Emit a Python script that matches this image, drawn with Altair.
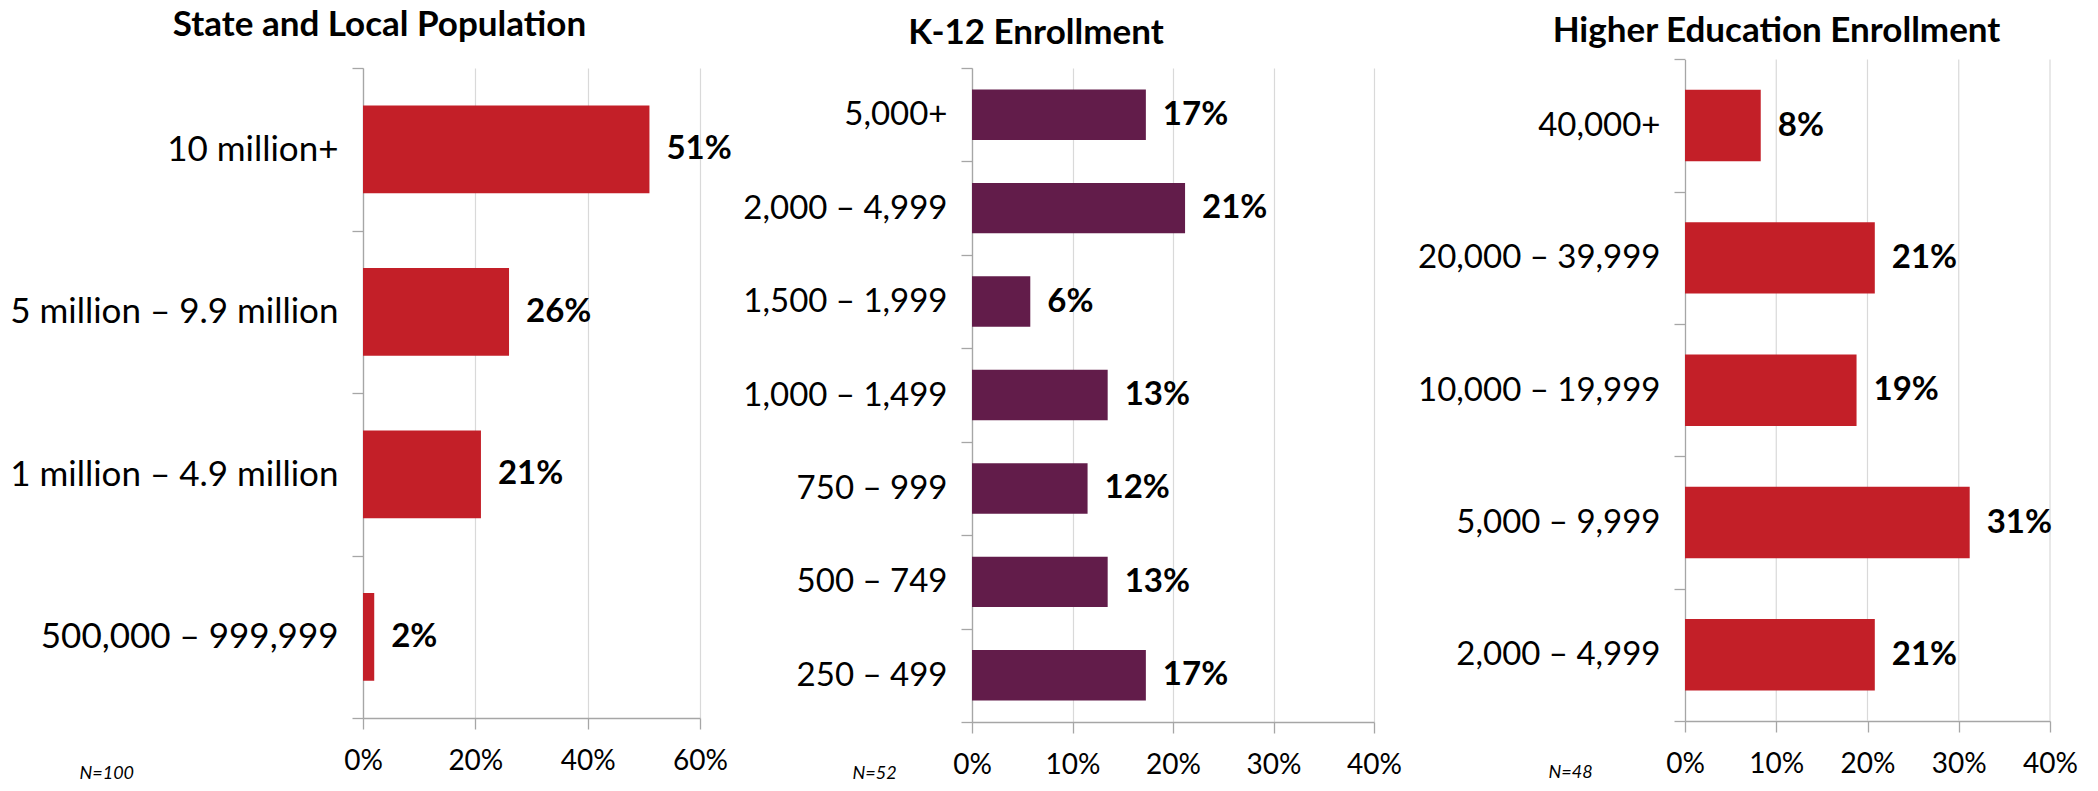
import altair as alt
import pandas as pd

# ---------------- data ----------------
pop_cats = ["10 million+", "5 million – 9.9 million", "1 million – 4.9 million", "500,000 – 999,999"]
pop_vals = [51, 26, 21, 2]
pop_labels = ["51%", "26%", "21%", "2%"]

k12_cats = ["5,000+", "2,000 – 4,999", "1,500 – 1,999", "1,000 – 1,499", "750 – 999", "500 – 749", "250 – 499"]
k12_vals = [17.3, 21.2, 5.8, 13.5, 11.5, 13.5, 17.3]
k12_labels = ["17%", "21%", "6%", "13%", "12%", "13%", "17%"]

he_cats = ["40,000+", "20,000 – 39,999", "10,000 – 19,999", "5,000 – 9,999", "2,000 – 4,999"]
he_vals = [8.3, 20.8, 18.8, 31.2, 20.8]
he_labels = ["8%", "21%", "19%", "31%", "21%"]

panel_titles = ["State and Local Population", "K-12 Enrollment", "Higher Education Enrollment"]
panel_notes = ["N=100", "N=52", "N=48"]
x_max = [60, 40, 40]
x_ticks = [[0, 20, 40, 60], [0, 10, 20, 30, 40], [0, 10, 20, 30, 40]]

RED = "#C31F28"
PURPLE = "#621C4A"
AXIS_GREY = "#A6A6A6"
GRID_GREY = "#D9D9D9"
FONT = "Lato"


def panel(cats, vals, labels, title, note, xmax, ticks, color,
          width, height, yext, label_size, title_dx, title_offset,
          note_x, note_y, top_extra=0):
    df = pd.DataFrame({"cat": cats, "val": vals, "label": labels})
    y_scale = alt.Scale(paddingInner=0, paddingOuter=0)
    if top_extra:
        y_scale = alt.Scale(paddingInner=0, paddingOuter=0, range=[-top_extra, height])
    y_enc = alt.Y(
        "cat:N", sort=cats, title=None, scale=y_scale,
        axis=alt.Axis(tickBand="extent", tickSize=11, labelPadding=14,
                      labelFont=FONT, labelFontSize=label_size, labelColor="#000000",
                      minExtent=yext, maxExtent=yext, labelLimit=600, grid=False),
    )
    x_scale = alt.Scale(domain=[0, xmax], nice=False)
    x_axis = alt.Axis(values=ticks, labelExpr="datum.value + '%'", tickSize=11,
                      labelPadding=18, labelFont=FONT, labelFontSize=28,
                      labelFlush=False, labelOverlap=False,
                      labelColor="#000000", grid=(top_extra == 0),
                      gridColor=GRID_GREY, gridWidth=1.2,
                      title=note, titleFont=FONT, titleFontStyle="italic",
                      titleFontWeight="normal", titleFontSize=18,
                      titleColor="#000000", titleAlign="left",
                      titleAnchor="start", titleBaseline="alphabetic",
                      titleX=note_x, titleY=note_y)
    x_enc = alt.X("val:Q", scale=x_scale, axis=x_axis)
    bars = alt.Chart(df).mark_bar(color=color, height=alt.RelativeBandSize(0.54)).encode(
        x=x_enc, y=y_enc
    )
    text = alt.Chart(df).mark_text(
        align="left", baseline="middle", dx=17, font=FONT, fontSize=33,
        fontWeight="bold", color="#000000"
    ).encode(
        x=alt.X("val:Q"), y=alt.Y("cat:N", sort=cats), text="label:N"
    )
    layers = [bars, text]
    if top_extra:
        grid_df = pd.DataFrame({"val": ticks[1:]})
        grid = alt.Chart(grid_df).mark_rule(color=GRID_GREY, strokeWidth=1.2).encode(
            x=alt.X("val:Q", scale=x_scale, axis=x_axis),
            y=alt.value(-top_extra), y2=alt.value(height),
        )
        layers = [grid] + layers
    return alt.layer(*layers).properties(
        width=width, height=height,
        title=alt.TitleParams(title, font=FONT, fontSize=35, fontWeight="bold",
                              color="#000000", anchor="middle", frame="group",
                              dx=title_dx, offset=title_offset),
    )


p1 = panel(pop_cats, pop_vals, pop_labels, panel_titles[0], panel_notes[0],
           x_max[0], x_ticks[0], RED, 337, 650, 355, 35, -152, 8, -284, 60)
p2 = panel(k12_cats, k12_vals, k12_labels, panel_titles[1], panel_notes[1],
           x_max[1], x_ticks[1], PURPLE, 402, 654, 227, 33, -137, 1.5, -120, 56)
p3 = panel(he_cats, he_vals, he_labels, panel_titles[2], panel_notes[2],
           x_max[2], x_ticks[2], RED, 365, 653, 272.7, 33, -91, 3, -137, 56,
           top_extra=8.6)

chart = alt.hconcat(p1, p2, p3, spacing=10).properties(
    padding={"left": 0, "top": 0, "right": 0, "bottom": 0}
).configure_view(stroke=None).configure_axis(
    domainColor=AXIS_GREY, tickColor=AXIS_GREY, domainWidth=1.3, tickWidth=1.3
)

chart.save("out.html", embed_options={"renderer": "svg", "actions": False})
